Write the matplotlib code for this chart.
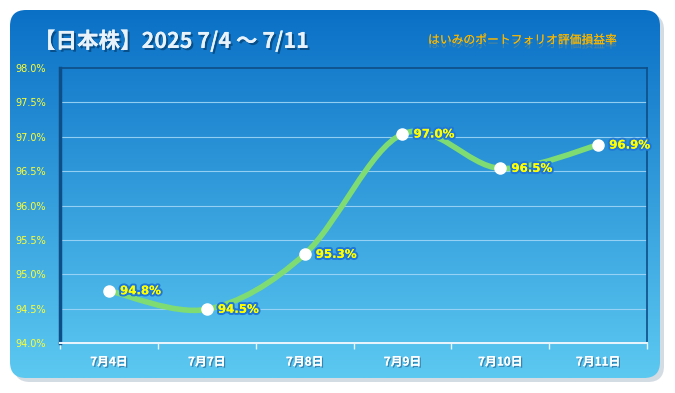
"""Weekly portfolio valuation ratio chart (Japanese stocks), blue gradient panel style."""
import matplotlib
matplotlib.use("Agg")
import matplotlib.pyplot as plt
import matplotlib.patheffects as pe
import numpy as np
from matplotlib.patches import FancyBboxPatch
from matplotlib.path import Path
from matplotlib.patches import PathPatch
from matplotlib.ticker import FixedLocator

plt.rcParams["font.family"] = ["Noto Sans CJK JP", "DejaVu Sans"]

# data
dates = ["7月4日", "7月7日", "7月8日", "7月9日", "7月10日", "7月11日"]
ratio = [94.76, 94.49, 95.29, 97.04, 96.54, 96.88]
y_ticks = [94.0, 94.5, 95.0, 95.5, 96.0, 96.5, 97.0, 97.5, 98.0]
title = "【日本株】2025 7/4 〜 7/11"
subtitle = "はいみのポートフォリオ評価損益率"

W, H = 675, 393
fig = plt.figure(figsize=(W / 100, H / 100), dpi=100)
fig.patch.set_facecolor("white")

# background layer in pixel coordinates
bg = fig.add_axes([0, 0, 1, 1], zorder=0)
bg.set_xlim(0, W)
bg.set_ylim(H, 0)
bg.axis("off")

shadow = FancyBboxPatch((14, 14), 650, 368, boxstyle="round,pad=0,rounding_size=16",
                        fc="#c9d3dc", ec="none", alpha=0.8)
bg.add_patch(shadow)
panel = FancyBboxPatch((10, 10), 650, 368, boxstyle="round,pad=0,rounding_size=16",
                       fc="none", ec="none")
bg.add_patch(panel)
grad = np.linspace(0, 1, 256).reshape(-1, 1)
top_c = np.array([0x0a, 0x70, 0xc6]) / 255
bot_c = np.array([0x5c, 0xc9, 0xf1]) / 255
img = top_c + (bot_c - top_c) * grad[..., None]
im = bg.imshow(img, extent=(10, 660, 378, 10), aspect="auto", zorder=1)
im.set_clip_path(panel)

bg.text(34, 41, title, fontsize=15.5, fontweight="bold", color="#e8f2fb",
        va="center", ha="left", zorder=3,
        path_effects=[pe.withSimplePatchShadow(offset=(1.5, -1.5), shadow_rgbFace="#06457a", alpha=0.8),
                      pe.Normal()])
bg.text(522, 40, subtitle, fontsize=8.5, color="#f7b500", va="center", ha="center", zorder=3,
        path_effects=[pe.withSimplePatchShadow(offset=(0, -3), shadow_rgbFace="#c9a040", alpha=0.35),
                      pe.Normal()])

# chart axes
ax = fig.add_axes([60 / W, 1 - 343 / H, 587 / W, 275 / H], zorder=2)
ax.patch.set_alpha(0)
x = np.arange(len(dates))
ax.set_xlim(-0.5, len(dates) - 0.5)
ax.set_ylim(y_ticks[0], y_ticks[-1])

for t in y_ticks[1:-1]:
    ax.axhline(t, color="#9fd6f7", lw=0.8, alpha=0.9, zorder=1)

# smooth curve through the points (cubic Bezier segments, Catmull-Rom tangents)
pts = np.column_stack([x, ratio]).astype(float)
verts = [tuple(pts[0])]
codes = [Path.MOVETO]
for i in range(len(pts) - 1):
    p0 = pts[i - 1] if i > 0 else pts[i]
    p1, p2 = pts[i], pts[i + 1]
    p3 = pts[i + 2] if i + 2 < len(pts) else pts[i + 1]
    c1 = p1 + (p2 - p0) / 6
    c2 = p2 - (p3 - p1) / 6
    verts += [tuple(c1), tuple(c2), tuple(p2)]
    codes += [Path.CURVE4] * 3
ax.add_patch(PathPatch(Path(verts, codes), fc="none", ec="#7fdc72", lw=4,
                       capstyle="round", zorder=3))
ax.plot(x, ratio, ls="none", marker="o", ms=8, mfc="white", mec="white", zorder=4)

for xi, v in zip(x, ratio):
    ax.annotate(f"{v:.1f}%", (xi, v), xytext=(8, 0), textcoords="offset points",
                va="center", ha="left", fontsize=8.5, fontweight="bold", color="#ffff00",
                zorder=5, family=["DejaVu Sans"],
                path_effects=[pe.withStroke(linewidth=3, foreground="#1f78d8"), pe.Normal()])

ax.set_yticks(y_ticks)
ax.set_yticklabels([f"{t:.1f}%" for t in y_ticks], fontsize=7, color="#ffff33",
                   family=["DejaVu Sans"])
ax.set_xticks(x)
ax.set_xticklabels(dates, fontsize=8.5, fontweight="bold", color="white")
for lab in ax.get_xticklabels():
    lab.set_path_effects([pe.withSimplePatchShadow(offset=(1, -1), shadow_rgbFace="#2a6a99", alpha=0.7),
                          pe.Normal()])
ax.tick_params(axis="x", which="major", length=0, pad=9)
ax.tick_params(axis="y", length=0, pad=10)
ax.xaxis.set_minor_locator(FixedLocator(np.arange(-0.5, len(dates), 1.0)))
ax.tick_params(axis="x", which="minor", length=4, color="#e8f4fc", width=1)

for side in ("top", "right"):
    ax.spines[side].set_color("#0d4e86")
    ax.spines[side].set_linewidth(1.2)
ax.spines["left"].set_color("#0d4e86")
ax.spines["left"].set_linewidth(2.5)
ax.spines["bottom"].set_color("#e8f4fc")
ax.spines["bottom"].set_linewidth(1.5)
ax.axhline(y_ticks[0], color="#0d4e86", lw=1.5, zorder=0)

fig.savefig("out.png", dpi=100)
